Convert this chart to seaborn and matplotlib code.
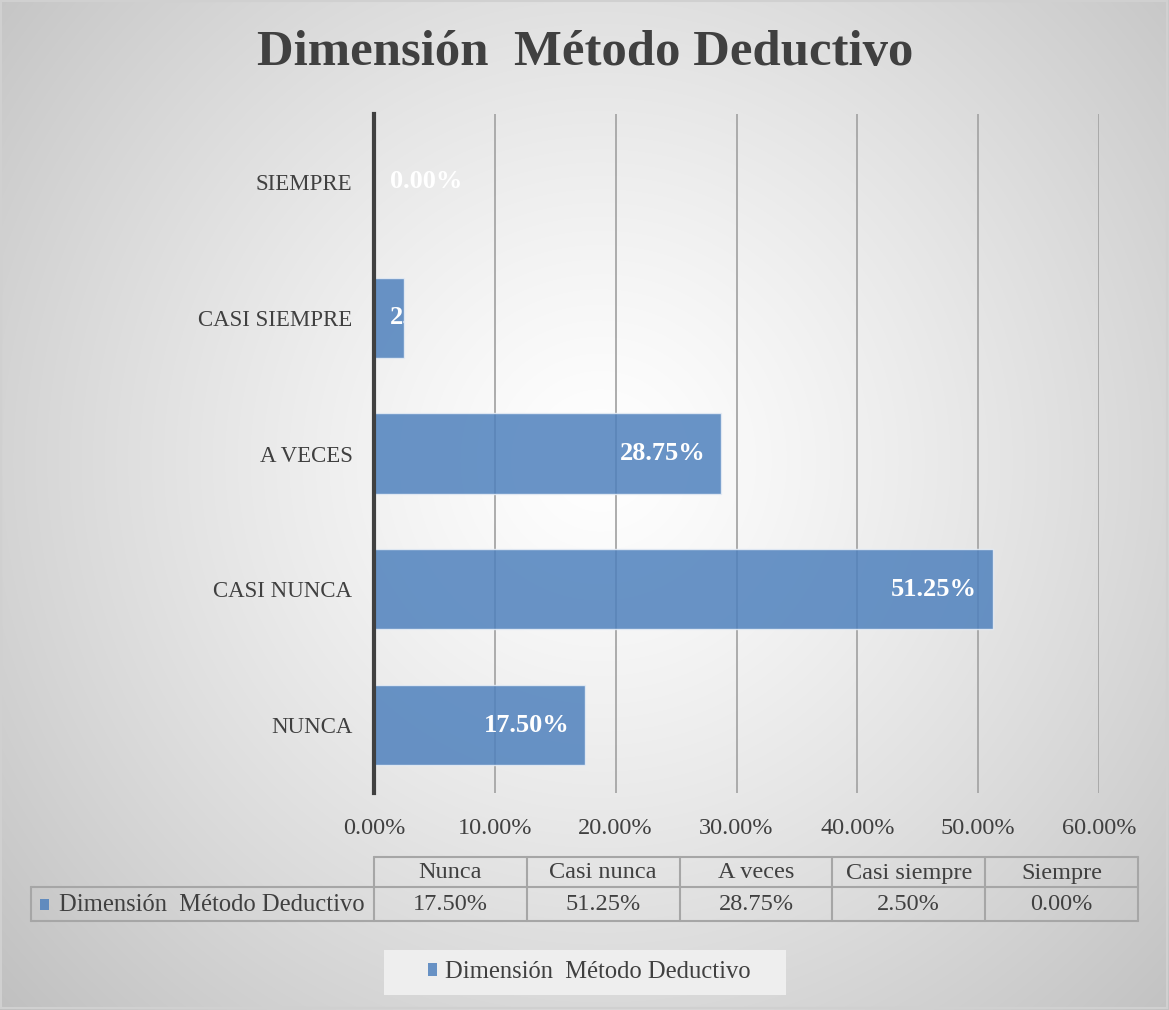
import numpy as np
import pandas as pd
import matplotlib
matplotlib.use("Agg")
import matplotlib.pyplot as plt
from matplotlib.patches import Patch, Rectangle
from matplotlib.transforms import offset_copy
import seaborn as sns

# ---------------- data ----------------
categories = ["SIEMPRE", "CASI SIEMPRE", "A VECES", "CASI NUNCA", "NUNCA"]
values = [0.00, 2.50, 28.75, 51.25, 17.50]
table_cols = ["Nunca", "Casi nunca", "A veces", "Casi siempre", "Siempre"]
table_vals = [17.50, 51.25, 28.75, 2.50, 0.00]
series_name = "Dimensión  Método Deductivo"
title = "Dimensión  Método Deductivo"
xticks = [0, 10, 20, 30, 40, 50, 60]

sns.set_theme(style="white")
plt.rcParams["font.family"] = ["Liberation Serif", "DejaVu Serif"]

W, H = 1169, 1010
fig = plt.figure(figsize=(W / 100, H / 100), dpi=100)

def fx(px):
    return px / W

def fy(py):
    return 1 - py / H

TXT = "#404040"
BAR = "#4F81BD"

# ---------------- background radial gradient ----------------
bg = fig.add_axes([0, 0, 1, 1], zorder=-10)
yy, xx = np.mgrid[0:H, 0:W]
r = np.sqrt((xx - 600) ** 2 + (yy - 460) ** 2) / 760.0
val = 255 - 58 * np.clip(r, 0, 1.2) ** 1.25
img = np.dstack([val, val, val]).astype(np.uint8)
bg.imshow(img, extent=[0, W, H, 0], aspect="auto")
bg.add_patch(Rectangle((1, 1), W - 3, H - 3, fill=False, edgecolor="#D0D0D0", lw=1.5))
bg.set_xlim(0, W)
bg.set_ylim(H, 0)
bg.axis("off")

# ---------------- main bar axes ----------------
ax = fig.add_axes([fx(374), fy(793), fx(1099) - fx(374), fy(114) - fy(793)])
ax.patch.set_alpha(0)
df = pd.DataFrame({"cat": categories, "val": values})
sns.barplot(data=df, y="cat", x="val", orient="h", order=categories,
            color=BAR, alpha=0.85, width=0.59, edgecolor="#E8EEF6",
            linewidth=1.0, saturation=1, ax=ax)
ax.set_xlim(0, 60)
ax.set_xticks(xticks)
ax.set_xticklabels([f"{t:.2f}%" for t in xticks])
ax.set_xlabel("")
ax.set_ylabel("")
ax.set_axisbelow(True)
ax.xaxis.grid(True, color="#A6A6A6", lw=1.3)
ax.yaxis.grid(False)
for s in ["top", "right", "bottom"]:
    ax.spines[s].set_visible(False)
ax.spines["left"].set_color(TXT)
ax.spines["left"].set_linewidth(3)
ax.spines["left"].set_zorder(5)
ax.tick_params(axis="x", length=0, pad=18, labelsize=17.5, labelcolor=TXT)
ax.tick_params(axis="y", length=0, pad=15.5, labelsize=16.5, labelcolor=TXT)

# data labels
fig.canvas.draw()
renderer = fig.canvas.get_renderer()
for bar, v in zip(ax.patches, values):
    y = bar.get_y() + bar.get_height() / 2
    lbl = f"{v:.2f}%"
    t = ax.text(0, y, lbl, color="white", fontsize=19, fontweight="bold",
                va="center", ha="right", zorder=6)
    tw = t.get_window_extent(renderer).width
    bw = ax.transData.transform((v, 0))[0] - ax.transData.transform((0, 0))[0]
    if bw > tw + 30:
        t.set_x(v)
        t.set_ha("right")
        t.set_transform(offset_copy(ax.transData, fig=fig, x=-16, y=0, units="dots"))
    else:
        t.set_x(0)
        t.set_ha("left")
        t.set_transform(offset_copy(ax.transData, fig=fig, x=16, y=0, units="dots"))
        if v > 0:
            t.set_clip_on(True)
            t.set_clip_path(bar)

# ---------------- title ----------------
fig.text(fx(585), fy(53), title, ha="center", va="center", fontsize=36.5,
         fontweight="bold", color=TXT)

# ---------------- data table ----------------
tab = fig.add_axes([0, 0, 1, 1], zorder=2)
tab.set_xlim(0, W)
tab.set_ylim(H, 0)
tab.axis("off")
tab.patch.set_alpha(0)
lc = "#A6A6A6"
x0, x1 = 374, 1138
xl = 31
yt, ym, yb = 857, 887, 921
ncol = len(table_cols)
cw = (x1 - x0) / ncol
tab.plot([x0, x1], [yt, yt], color=lc, lw=1.5)
tab.plot([xl, x1], [ym, ym], color=lc, lw=1.5)
tab.plot([xl, x1], [yb, yb], color=lc, lw=1.5)
tab.plot([xl, xl], [ym, yb], color=lc, lw=1.5)
for i in range(ncol + 1):
    xx_ = x0 + i * cw
    tab.plot([xx_, xx_], [yt, yb], color=lc, lw=1.5)
for i, (c, v) in enumerate(zip(table_cols, table_vals)):
    cx = x0 + (i + 0.5) * cw
    tab.text(cx, (yt + ym) / 2 + 1, c, ha="center", va="center", fontsize=17.5, color=TXT)
    tab.text(cx, (ym + yb) / 2 + 1, f"{v:.2f}%", ha="center", va="center", fontsize=17.5, color=TXT)
tab.add_patch(Rectangle((40, 899), 9, 11, facecolor=BAR, alpha=0.85, edgecolor="none"))
tab.text(59, (ym + yb) / 2 + 1, series_name, ha="left", va="center", fontsize=17.7, color=TXT)

# ---------------- legend ----------------
tab.add_patch(Rectangle((384, 950), 402, 45, facecolor="#EEEEEE", edgecolor="none", zorder=0))
handle = Patch(facecolor=BAR, alpha=0.85, edgecolor="none", label=series_name)
leg = fig.legend(handles=[handle], loc="center", bbox_to_anchor=(fx(589), fy(972)),
                 frameon=False, fontsize=17.7, handlelength=0.38, handleheight=0.45,
                 handletextpad=0.3, borderpad=0.3, borderaxespad=0)
leg.set_zorder(5)
for t in leg.get_texts():
    t.set_color(TXT)

fig.savefig("out.png", dpi=100)
